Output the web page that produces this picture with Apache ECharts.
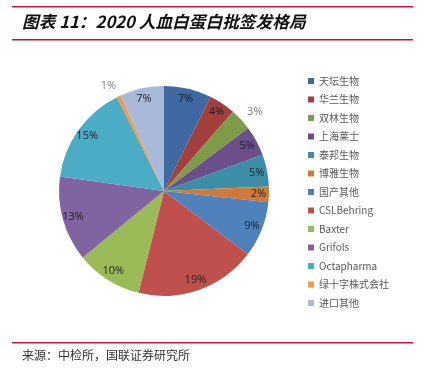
<!DOCTYPE html>
<html>
<head>
<meta charset="utf-8">
<script src="https://cdn.jsdelivr.net/npm/echarts@6/dist/echarts.min.js"></script>
<style>
  html, body { margin: 0; padding: 0; background: #fff; }
  #main { width: 428px; height: 377px; }
</style>
</head>
<body>
<div id="main"></div>
<script>
// 2020 人血白蛋白批签发格局 (%)
var names = ["天坛生物", "华兰生物", "双林生物", "上海莱士", "泰邦生物", "博雅生物", "国产其他",
  "CSLBehring", "Baxter", "Grifols", "Octapharma", "绿十字株式会社", "进口其他"];
var shares = [7.3, 4.1, 3.4, 4.6, 4.9, 2.4, 8.6, 18.6, 10.2, 13.1, 15.4, 0.6, 6.8];
var colors = ["#3e69a2", "#a1403d", "#7e9b48", "#6a4f8a", "#3b8ea5", "#d07a3a", "#4f81bd",
  "#c0504d", "#9bbb59", "#8064a2", "#4bacc6", "#f79646", "#a9b9d9"];
// labels drawn outside the pie (small slices)
var outsideNames = ["双林生物", "绿十字株式会社"];

var chart = echarts.init(document.getElementById("main"));

// invisible ring used only to place labels near the outer edge
var labelData = names.map(function (n, i) {
  var outside = outsideNames.indexOf(n) >= 0;
  return {
    name: n,
    value: shares[i],
    itemStyle: { color: "rgba(0,0,0,0)" },
    label: { show: !outside }
  };
});

var pieData = names.map(function (n, i) {
  var outside = outsideNames.indexOf(n) >= 0;
  return {
    name: n,
    value: shares[i],
    itemStyle: { color: colors[i] },
    label: { show: outside }
  };
});

function pct(p) { return Math.round(p.percent) + "%"; }

chart.setOption({
  animation: false,
  color: colors,
  legend: {
    orient: "vertical",
    left: 303,
    top: 70,
    itemWidth: 6,
    itemHeight: 6,
    itemGap: 6.5,
    icon: "rect",
    data: names,
    textStyle: {
      fontSize: 10,
      lineHeight: 12,
      color: "#595959",
      fontFamily: "Noto Sans CJK SC"
    }
  },
  graphic: [
    { type: "rect", shape: { x: 12, y: 6, width: 401, height: 1.5 }, style: { fill: "#c0143c" } },
    { type: "rect", shape: { x: 12, y: 39, width: 401, height: 1.5 }, style: { fill: "#c0143c" } },
    { type: "rect", shape: { x: 12, y: 342, width: 401, height: 1.5 }, style: { fill: "#c0143c" } },
    {
      type: "text", left: 22, top: 13,
      style: {
        text: "图表 11：2020 人血白蛋白批签发格局",
        fontSize: 16.7, fontWeight: "bold", fontStyle: "italic",
        fontFamily: "Noto Sans CJK SC", fill: "#111"
      }
    },
    {
      type: "text", left: 22, top: 349,
      style: {
        text: "来源：中检所，国联证券研究所",
        fontSize: 12, fontFamily: "Noto Sans CJK SC", fill: "#333"
      }
    }
  ],
  series: [
    {
      type: "pie",
      center: [164, 191],
      radius: [0, 105],
      startAngle: 90,
      clockwise: true,
      silent: true,
      data: pieData,
      label: {
        position: "outside",
        fontSize: 11,
        color: "#7f7f7f",
        fontFamily: "Open Sans",
        formatter: pct
      },
      labelLine: { show: false, length: 12, length2: 0 },
      labelLayout: { align: "center" },
      emphasis: { disabled: true }
    },
    {
      type: "pie",
      center: [164, 191],
      radius: [78, 105],
      startAngle: 90,
      clockwise: true,
      silent: true,
      data: labelData,
      label: {
        position: "inside",
        fontSize: 11,
        color: "#1f1f1f",
        fontFamily: "Open Sans",
        formatter: pct
      },
      labelLine: { show: false },
      emphasis: { disabled: true }
    }
  ]
});
</script>
</body>
</html>
